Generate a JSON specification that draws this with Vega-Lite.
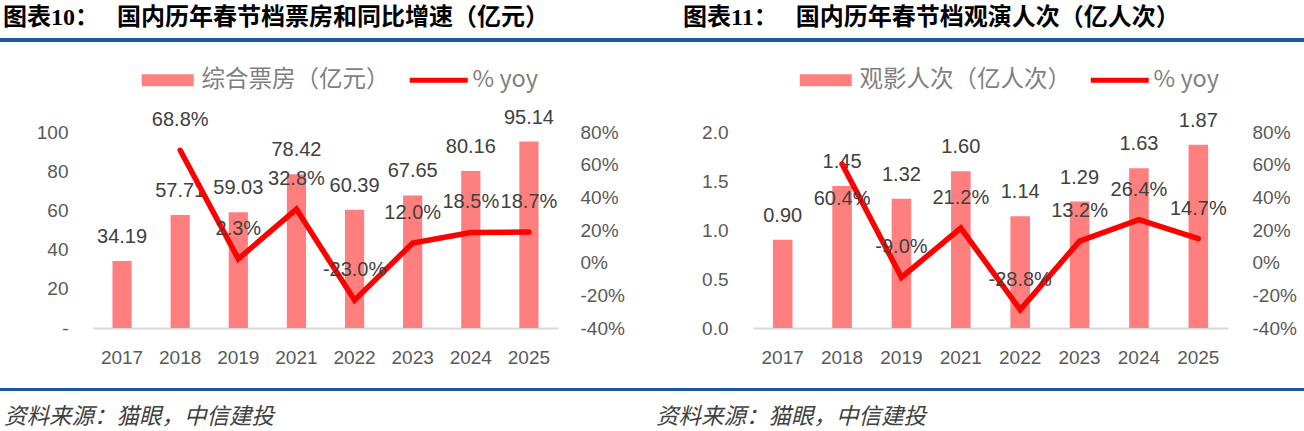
{
  "$schema": "https://vega.github.io/schema/vega-lite/v6.json",
  "padding": {"top": 6, "left": 0, "right": 0, "bottom": 0},
  "background": "white",
  "datasets": {
    "box": [
      {"year": "2017", "value": 34.19, "yoy": null},
      {"year": "2018", "value": 57.71, "yoy": 68.8},
      {"year": "2019", "value": 59.03, "yoy": 2.3},
      {"year": "2021", "value": 78.42, "yoy": 32.8},
      {"year": "2022", "value": 60.39, "yoy": -23.0},
      {"year": "2023", "value": 67.65, "yoy": 12.0},
      {"year": "2024", "value": 80.16, "yoy": 18.5},
      {"year": "2025", "value": 95.14, "yoy": 18.7}
    ],
    "audience": [
      {"year": "2017", "value": 0.90, "yoy": null},
      {"year": "2018", "value": 1.45, "yoy": 60.4},
      {"year": "2019", "value": 1.32, "yoy": -9.0},
      {"year": "2021", "value": 1.60, "yoy": 21.2},
      {"year": "2022", "value": 1.14, "yoy": -28.8},
      {"year": "2023", "value": 1.29, "yoy": 13.2},
      {"year": "2024", "value": 1.63, "yoy": 26.4},
      {"year": "2025", "value": 1.87, "yoy": 14.7}
    ]
  },
  "config": {
    "view": {"stroke": null},
    "font": "Liberation Sans",
    "axis": {
      "labelFont": "Liberation Sans",
      "labelFontSize": 19,
      "labelColor": "#595959",
      "ticks": false,
      "domain": false,
      "grid": false
    },
    "text": {"font": "Liberation Sans", "fontSize": 20, "color": "#404040"}
  },
  "spacing": 0,
  "resolve": {"scale": {"color": "independent"}, "legend": {"color": "independent"}},
  "hconcat": [
    {
      "spacing": 18,
      "resolve": {"scale": {"color": "independent"}, "legend": {"color": "independent"}},
      "vconcat": [
        {
          "width": 652,
          "height": 4,
          "data": {"values": [{}]},
          "mark": {"type": "text", "text": ""},
          "view": {"fill": "#1F5A96", "stroke": null},
          "title": {
            "text": "图表10：　 国内历年春节档票房和同比增速（亿元）",
            "anchor": "start",
            "frame": "group",
            "font": "Liberation Serif, Noto Sans CJK SC",
            "fontSize": 24,
            "fontWeight": "bold",
            "color": "#000000",
            "offset": 0,
            "dx": 3
          }
        },
        {
          "spacing": 12,
          "resolve": {"scale": {"color": "independent"}, "legend": {"color": "independent"}},
          "vconcat": [
            {
              "width": 652,
              "height": 196,
              "data": {"name": "box"},
              "encoding": {
                "x": {
                  "field": "year",
                  "type": "ordinal",
                  "scale": {"range": [93, 558], "paddingInner": 0.67, "paddingOuter": 0.335},
                  "axis": {"title": null, "labelAngle": 0, "domain": true, "domainColor": "#D9D9D9", "domainWidth": 2, "labelPadding": 20}
                }
              },
              "layer": [
                {
                  "encoding": {
                    "y": {
                      "field": "value",
                      "type": "quantitative",
                      "scale": {"domain": [0, 100], "nice": false},
                      "axis": {"orient": "left", "title": null, "offset": -93, "values": [0, 20, 40, 60, 80, 100], "labelExpr": "datum.value == 0 ? '-' : datum.label", "labelPadding": 25}
                    }
                  },
                  "layer": [
                    {
                      "mark": {"type": "bar"},
                      "encoding": {
                        "color": {
                          "datum": "综合票房（亿元）",
                          "scale": {"domain": ["综合票房（亿元）", "% yoy"], "range": ["#FF7F7F", "#FF0000"]},
                          "legend": {
                            "orient": "none",
                            "legendX": 156,
                            "legendY": -64,
                            "direction": "horizontal",
                            "title": null,
                            "padding": 0,
                            "symbolSize": 100,
                            "labelOffset": 22,
                            "columnPadding": 19,
                            "labelFont": "Noto Sans CJK SC",
                            "labelFontSize": 23.5,
                            "labelColor": "#7F7F7F",
                            "labelLimit": 400,
                            "encode": {
                              "symbols": {
                                "update": {
                                  "shape": {"signal": "datum.value === '% yoy' ? 'M-5.8,-0.5H5.8V0.5H-5.8Z' : 'M-5.2,-1.2H5.2V1.2H-5.2Z'"},
                                  "fill": {"signal": "datum.value === '% yoy' ? '#FF0000' : '#FF7F7F'"},
                                  "strokeWidth": {"value": 0},
                                  "opacity": {"value": 1}
                                }
                              }
                            }
                          }
                        }
                      }
                    },
                    {
                      "mark": {"type": "text", "baseline": "alphabetic", "dy": -18},
                      "encoding": {"text": {"field": "value", "type": "quantitative", "format": ".2f"}}
                    }
                  ]
                },
                {
                  "transform": [
                    {"filter": "isValid(datum.yoy)"},
                    {"calculate": "replace(format(datum.yoy, '.1f'), '−', '-') + '%'", "as": "yoy_label"}
                  ],
                  "encoding": {
                    "y": {
                      "field": "yoy",
                      "type": "quantitative",
                      "scale": {"domain": [-40, 80], "nice": false},
                      "axis": {"orient": "right", "title": null, "offset": -94, "values": [-40, -20, 0, 20, 40, 60, 80], "labelExpr": "datum.value + '%'", "labelPadding": 22}
                    }
                  },
                  "layer": [
                    {
                      "mark": {"type": "line", "strokeWidth": 5.5, "strokeCap": "round"},
                      "encoding": {"color": {"datum": "% yoy"}}
                    },
                    {
                      "mark": {"type": "text", "baseline": "alphabetic", "dy": -24},
                      "encoding": {"text": {"field": "yoy_label", "type": "nominal"}}
                    }
                  ]
                }
              ],
              "resolve": {"scale": {"y": "independent"}}
            },
            {
              "width": 652,
              "height": 3,
              "data": {"values": [{}]},
              "mark": {"type": "text", "text": ""},
              "view": {"fill": "#1F5A96", "stroke": null},
              "title": {
                "text": "资料来源：猫眼，中信建投",
                "orient": "bottom",
                "anchor": "start",
                "frame": "group",
                "font": "Noto Sans CJK SC",
                "fontSize": 22.5,
                "fontStyle": "italic",
                "fontWeight": "normal",
                "color": "#404040",
                "offset": 6,
                "dx": 4
              }
            }
          ]
        }
      ]
    },
    {
      "spacing": 18,
      "resolve": {"scale": {"color": "independent"}, "legend": {"color": "independent"}},
      "vconcat": [
        {
          "width": 652,
          "height": 4,
          "data": {"values": [{}]},
          "mark": {"type": "text", "text": ""},
          "view": {"fill": "#1F5A96", "stroke": null},
          "title": {
            "text": "图表11：　 国内历年春节档观演人次（亿人次）",
            "anchor": "start",
            "frame": "group",
            "font": "Liberation Serif, Noto Sans CJK SC",
            "fontSize": 24,
            "fontWeight": "bold",
            "color": "#000000",
            "offset": 0,
            "dx": 31
          }
        },
        {
          "spacing": 12,
          "resolve": {"scale": {"color": "independent"}, "legend": {"color": "independent"}},
          "vconcat": [
            {
              "width": 652,
              "height": 196,
              "data": {"name": "audience"},
              "encoding": {
                "x": {
                  "field": "year",
                  "type": "ordinal",
                  "scale": {"range": [101, 576], "paddingInner": 0.67, "paddingOuter": 0.335},
                  "axis": {"title": null, "labelAngle": 0, "domain": true, "domainColor": "#D9D9D9", "domainWidth": 2, "labelPadding": 20}
                }
              },
              "layer": [
                {
                  "encoding": {
                    "y": {
                      "field": "value",
                      "type": "quantitative",
                      "scale": {"domain": [0, 2], "nice": false},
                      "axis": {"orient": "left", "title": null, "offset": -101, "values": [0, 0.5, 1, 1.5, 2], "format": ".1f", "labelPadding": 25}
                    }
                  },
                  "layer": [
                    {
                      "mark": {"type": "bar"},
                      "encoding": {
                        "color": {
                          "datum": "观影人次（亿人次）",
                          "scale": {"domain": ["观影人次（亿人次）", "% yoy"], "range": ["#FF7F7F", "#FF0000"]},
                          "legend": {
                            "orient": "none",
                            "legendX": 162,
                            "legendY": -64,
                            "direction": "horizontal",
                            "title": null,
                            "padding": 0,
                            "symbolSize": 100,
                            "labelOffset": 22,
                            "columnPadding": 19,
                            "labelFont": "Noto Sans CJK SC",
                            "labelFontSize": 23.5,
                            "labelColor": "#7F7F7F",
                            "labelLimit": 400,
                            "encode": {
                              "symbols": {
                                "update": {
                                  "shape": {"signal": "datum.value === '% yoy' ? 'M-5.8,-0.5H5.8V0.5H-5.8Z' : 'M-5.2,-1.2H5.2V1.2H-5.2Z'"},
                                  "fill": {"signal": "datum.value === '% yoy' ? '#FF0000' : '#FF7F7F'"},
                                  "strokeWidth": {"value": 0},
                                  "opacity": {"value": 1}
                                }
                              }
                            }
                          }
                        }
                      }
                    },
                    {
                      "mark": {"type": "text", "baseline": "alphabetic", "dy": -18},
                      "encoding": {"text": {"field": "value", "type": "quantitative", "format": ".2f"}}
                    }
                  ]
                },
                {
                  "transform": [
                    {"filter": "isValid(datum.yoy)"},
                    {"calculate": "replace(format(datum.yoy, '.1f'), '−', '-') + '%'", "as": "yoy_label"}
                  ],
                  "encoding": {
                    "y": {
                      "field": "yoy",
                      "type": "quantitative",
                      "scale": {"domain": [-40, 80], "nice": false},
                      "axis": {"orient": "right", "title": null, "offset": -76, "values": [-40, -20, 0, 20, 40, 60, 80], "labelExpr": "datum.value + '%'", "labelPadding": 24}
                    }
                  },
                  "layer": [
                    {
                      "mark": {"type": "line", "strokeWidth": 5.5, "strokeCap": "round"},
                      "encoding": {"color": {"datum": "% yoy"}}
                    },
                    {
                      "transform": [{"filter": "datum.year != '2018'"}],
                      "mark": {"type": "text", "baseline": "alphabetic", "dy": -24},
                      "encoding": {"text": {"field": "yoy_label", "type": "nominal"}}
                    },
                    {
                      "transform": [{"filter": "datum.year == '2018'"}],
                      "mark": {"type": "text", "baseline": "alphabetic", "dy": 41},
                      "encoding": {"text": {"field": "yoy_label", "type": "nominal"}}
                    }
                  ]
                }
              ],
              "resolve": {"scale": {"y": "independent"}}
            },
            {
              "width": 652,
              "height": 3,
              "data": {"values": [{}]},
              "mark": {"type": "text", "text": ""},
              "view": {"fill": "#1F5A96", "stroke": null},
              "title": {
                "text": "资料来源：猫眼，中信建投",
                "orient": "bottom",
                "anchor": "start",
                "frame": "group",
                "font": "Noto Sans CJK SC",
                "fontSize": 22.5,
                "fontStyle": "italic",
                "fontWeight": "normal",
                "color": "#404040",
                "offset": 6,
                "dx": 4
              }
            }
          ]
        }
      ]
    }
  ]
}
